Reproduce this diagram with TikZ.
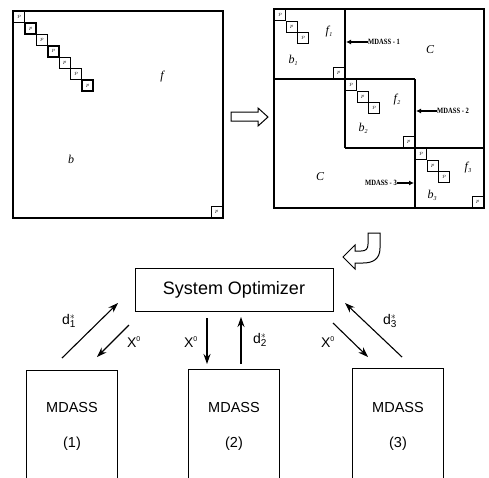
\documentclass[tikz,border=0pt]{standalone}
\usepackage{fontspec}
\setmainfont{Liberation Serif}
\newfontfamily\sansfam{Liberation Sans}
\usetikzlibrary{arrows.meta}

\tikzset{
  frame/.style={draw, line width=1.3pt},
  pbox/.style={draw, line width=1.4pt, anchor=north west, minimum size=11pt,
               inner sep=0pt, font=\fontsize{5}{5}\selectfont\itshape},
  mlabel/.style={inner sep=0pt, font=\fontsize{12}{12}\selectfont\itshape},
  tag/.style={inner sep=0pt, font=\fontsize{8}{8}\selectfont\bfseries},
  tagarrow/.style={line width=1.2pt, -{Latex[length=5pt,width=5pt]}},
  hollow/.style={draw, line width=1pt, fill=white, line join=miter},
  optbox/.style={draw, line width=1pt, minimum width=198pt, minimum height=43pt,
                 inner sep=0pt, font=\sansfam\fontsize{18}{18}\selectfont},
  mdbox/.style={draw, line width=1pt, minimum width=91pt, minimum height=140pt,
                anchor=north, inner sep=0pt},
  mdtext/.style={inner sep=0pt, font=\sansfam\fontsize{14.5}{14.5}\selectfont},
  flow/.style={line width=1.1pt, -{Stealth[length=10pt,width=7pt]}},
  flowlabel/.style={inner sep=0pt, font=\sansfam\fontsize{14}{14}\selectfont},
}

\begin{document}
\begin{tikzpicture}[x=1pt,y=-1pt]
\clip (0,0) rectangle (489,477);
\fill[white] (0,0) rectangle (489,477);

% ---- original structure matrix ----
\draw[frame] (13,11) rectangle (223,218);
\foreach \i in {0,...,6}{
  \node[pbox] (L\i) at ({13+11.4*\i},{11+11.4*\i}) {$p$};
}
\node[pbox, anchor=south east] (Lend) at (223,218) {$p$};
\node[mlabel] (Lf) at (162,77) {f};
\node[mlabel] (Lb) at (71,159) {b};

% ---- hollow arrow between the matrices ----
\draw[hollow] (231,112) -- (258,112) -- (258,108) -- (268,117) -- (258,126)
  -- (258,121) -- (231,121) -- cycle;

% ---- decomposed matrix ----
\draw[frame] (274,9) rectangle (484,208);
\draw[frame] (274,79) -- (415,79);
\draw[frame] (345,9) -- (345,148);
\draw[frame] (345,148) -- (484,148);
\draw[frame] (415,79) -- (415,208);

% block 1
\foreach \i in {0,1,2}{
  \node[pbox] (A\i) at ({274+11.5*\i},{9+11.5*\i}) {$p$};
}
\node[pbox, anchor=south east] (Aend) at (345,79) {$p$};
% block 2
\foreach \i in {0,1,2}{
  \node[pbox] (B\i) at ({345+11.5*\i},{79+11.5*\i}) {$p$};
}
\node[pbox, anchor=south east] (Bend) at (415,148) {$p$};
% block 3
\foreach \i in {0,1,2}{
  \node[pbox] (C\i) at ({415+11.5*\i},{148+11.5*\i}) {$p$};
}
\node[pbox, anchor=south east] (Cend) at (484,208) {$p$};

\node[mlabel] (f1) at (329,32) {f\kern0.5pt\raisebox{-2pt}{\fontsize{6}{6}\selectfont 1}};
\node[mlabel] (b1) at (293,60) {b\raisebox{-2pt}{\fontsize{6}{6}\selectfont 1}};
\node[mlabel] (f2) at (397,100) {f\kern0.5pt\raisebox{-2pt}{\fontsize{6}{6}\selectfont 2}};
\node[mlabel] (b2) at (363,128) {b\raisebox{-2pt}{\fontsize{6}{6}\selectfont 2}};
\node[mlabel] (f3) at (468,168) {f\kern0.5pt\raisebox{-2pt}{\fontsize{6}{6}\selectfont 3}};
\node[mlabel] (b3) at (432,195) {b\raisebox{-2pt}{\fontsize{6}{6}\selectfont 3}};
\node[mlabel] (Cu) at (430,50) {C};
\node[mlabel] (Cl) at (320,177) {C};

\node[tag, anchor=west] (t1) at (368,42) {\scalebox{0.82}[1]{MDASS - 1}};
\coordinate (t1tip) at (346,42);
\draw[tagarrow] (t1.west) -- (t1tip);
\node[tag, anchor=west] (t2) at (437,111) {\scalebox{0.82}[1]{MDASS - 2}};
\coordinate (t2tip) at (416,111);
\draw[tagarrow] (t2.west) -- (t2tip);
\node[tag, anchor=east] (t3) at (397,183) {\scalebox{0.82}[1]{MDASS - 3}};
\coordinate (t3tip) at (414,183);
\draw[tagarrow] (t3.east) -- (t3tip);

% ---- bent hollow arrow ----
\draw[hollow] (368,233) -- (380,233) -- (380,248)
  .. controls (380,259) and (373,263) .. (363,263) -- (355,263) -- (355,269)
  -- (343,257) -- (355,245) -- (355,251) -- (361,251)
  .. controls (366,251) and (368,249) .. (368,244) -- cycle;

% ---- system optimizer and subsystems ----
\node[optbox] (opt) at (234,289.5) {System Optimizer};
\node[mdbox] (m1) at (71.5,370) {};
\node[mdbox] (m2) at (234,369) {};
\node[mdbox] (m3) at (398,368) {};
\foreach \k/\x in {1/72,2/234,3/398}{
  \node[mdtext] (m\k name) at (\x,407) {MDASS};
  \node[mdtext] (m\k num) at (\x,444) {(\k)};
}

% flow arrows
\coordinate (d1s) at (62,358);   \coordinate (d1e) at (118,303);
\coordinate (x1s) at (129,325);  \coordinate (x1e) at (97,357);
\coordinate (x2s) at (207,318);  \coordinate (x2e) at (207,364);
\coordinate (d2s) at (241,364);  \coordinate (d2e) at (241,317);
\coordinate (x3s) at (333,323);  \coordinate (x3e) at (368,357);
\coordinate (d3s) at (402,357);  \coordinate (d3e) at (345,303);
\draw[flow] (d1s) -- (d1e);
\draw[flow] (x1s) -- (x1e);
\draw[flow] (x2s) -- (x2e);
\draw[flow] (d2s) -- (d2e);
\draw[flow] (x3s) -- (x3e);
\draw[flow] (d3s) -- (d3e);

\node[flowlabel] (ld1) at (69,321) {d$^{\ast}_{\hbox{\sansfam\fontsize{10}{10}\selectfont 1}}$};
\node[flowlabel] (lx1) at (134,342) {X$^{\hbox{\sansfam\fontsize{7}{7}\selectfont 0}}$};
\node[flowlabel] (lx2) at (191,342) {X$^{\hbox{\sansfam\fontsize{7}{7}\selectfont 0}}$};
\node[flowlabel] (ld2) at (260,340) {d$^{\ast}_{\hbox{\sansfam\fontsize{10}{10}\selectfont 2}}$};
\node[flowlabel] (lx3) at (328,342) {X$^{\hbox{\sansfam\fontsize{7}{7}\selectfont 0}}$};
\node[flowlabel] (ld3) at (390,321) {d$^{\ast}_{\hbox{\sansfam\fontsize{10}{10}\selectfont 3}}$};
\end{tikzpicture}
\end{document}
